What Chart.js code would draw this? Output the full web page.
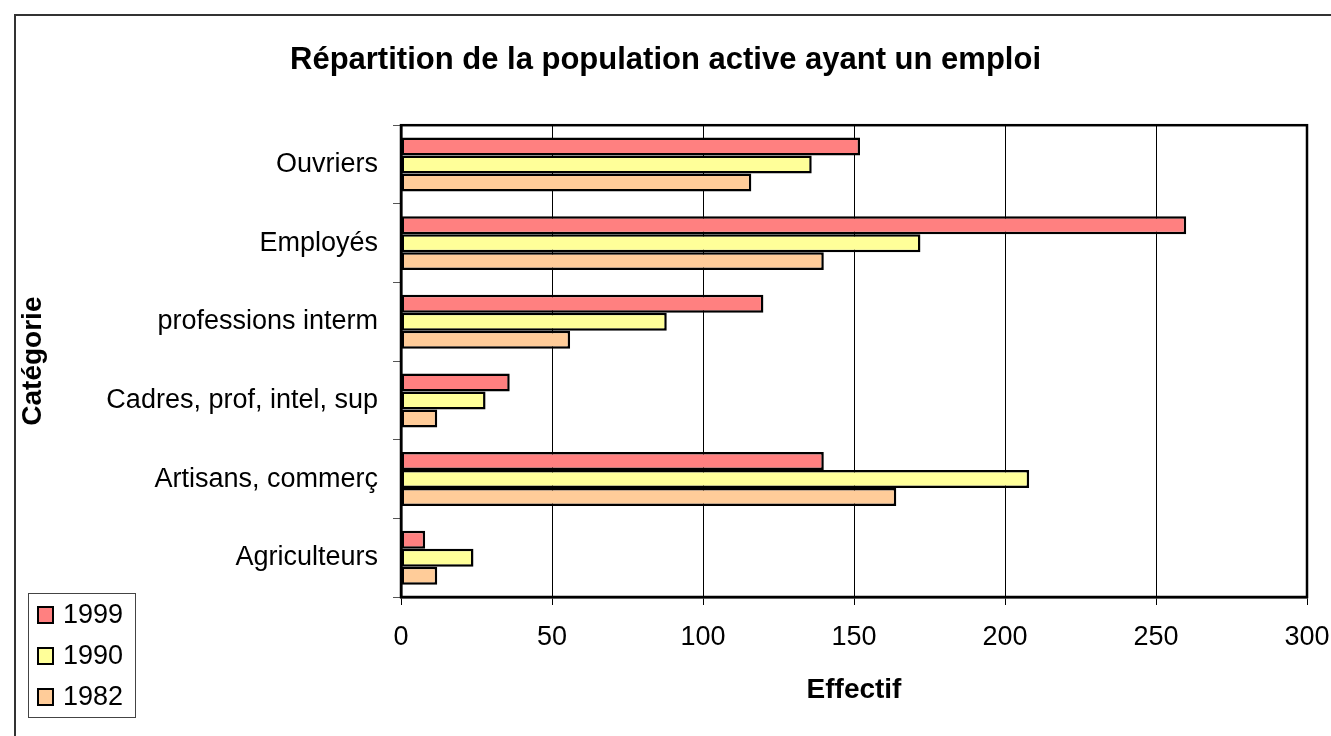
<!DOCTYPE html>
<html>
<head>
<meta charset="utf-8">
<title>Répartition de la population active</title>
<script src="https://cdn.jsdelivr.net/npm/chart.js"></script>
<style>
  body { margin: 0; background: #fff; }
</style>
</head>
<body>
<canvas id="chart" width="1331" height="736"></canvas>
<script>
const categories = ['Ouvriers', 'Employés', 'professions interm', 'Cadres, prof, intel, sup', 'Artisans, commerç', 'Agriculteurs'];
const years = ['1999', '1990', '1982'];
const values1999 = [152, 260, 120, 36, 140, 8];
const values1990 = [136, 172, 88, 28, 208, 24];
const values1982 = [116, 140, 56, 12, 164, 12];
const xTicks = [0, 50, 100, 150, 200, 250, 300];
const colors = ['#FF8080', '#FFFF99', '#FFCC99'];

const FONT = "'Liberation Sans', Arial, sans-serif";

// outer frame, plot frame and the little legend box at bottom left
const framePlugin = {
    id: 'frames',
    beforeDraw(chart) {
        const ctx = chart.ctx;
        ctx.save();
        ctx.fillStyle = '#fff';
        ctx.fillRect(0, 0, chart.width, chart.height);
        ctx.strokeStyle = '#333';
        ctx.lineWidth = 2;
        ctx.strokeRect(15, 15, chart.width + 20, chart.height + 20);
        ctx.restore();
    },
    afterDatasetsDraw(chart) {
        const a = chart.chartArea;
        const ctx = chart.ctx;
        ctx.save();
        ctx.strokeStyle = '#000';
        ctx.lineWidth = 2.5;
        ctx.strokeRect(a.left, a.top, a.right - a.left, a.bottom - a.top);
        ctx.restore();
    },
    afterDraw(chart) {
        const ctx = chart.ctx;
        ctx.save();
        ctx.strokeStyle = '#444';
        ctx.lineWidth = 1;
        ctx.strokeRect(28.5, 593.5, 107, 124);
        ctx.font = '27px ' + FONT;
        ctx.textBaseline = 'middle';
        chart.data.datasets.forEach((ds, i) => {
            const y = 615 + i * 41;
            ctx.fillStyle = ds.backgroundColor;
            ctx.fillRect(38, y - 8, 15, 16);
            ctx.strokeStyle = '#000';
            ctx.lineWidth = 2;
            ctx.strokeRect(38, y - 8, 15, 16);
            ctx.fillStyle = '#000';
            ctx.fillText(ds.label, 63, y + 1);
        });
        ctx.restore();
    }
};

const series = [values1999, values1990, values1982];

new Chart(document.getElementById('chart'), {
    type: 'bar',
    data: {
        labels: categories,
        datasets: years.map((y, i) => ({
            label: y,
            data: series[i],
            backgroundColor: colors[i],
            borderColor: '#000',
            borderWidth: 2.5,
            borderSkipped: false,
            categoryPercentage: 0.686,
            barPercentage: 1
        }))
    },
    options: {
        indexAxis: 'y',
        responsive: false,
        animation: false,
        layout: { padding: 0 },
        plugins: {
            legend: { display: false },
            tooltip: { enabled: false },
            title: {
                display: true,
                text: 'Répartition de la population active ayant un emploi',
                color: '#000',
                font: { family: FONT, size: 31, weight: 'bold' },
                padding: { top: 42, bottom: 46 }
            }
        },
        scales: {
            x: {
                min: 0,
                max: 300,
                afterBuildTicks: s => { s.ticks = xTicks.map(v => ({ value: v })); },
                afterFit: s => { s.height = 139; s.paddingLeft = 0; s.paddingRight = 24; },
                grid: { color: '#000', lineWidth: 1, tickLength: 8 },
                border: { display: true, color: '#000', width: 2.5 },
                ticks: { color: '#000', padding: 16, maxRotation: 0, font: { family: FONT, size: 27 } },
                title: {
                    display: true,
                    text: 'Effectif',
                    color: '#000',
                    font: { family: FONT, size: 28, weight: 'bold' },
                    padding: { top: 0, bottom: 29 }
                }
            },
            y: {
                afterFit: s => { s.width = 401; },
                grid: { drawOnChartArea: false, color: '#555', tickLength: 8 },
                border: { display: true, color: '#000', width: 2.5 },
                ticks: { color: '#000', padding: 15, font: { family: FONT, size: 27 } },
                title: {
                    display: true,
                    text: 'Catégorie',
                    color: '#000',
                    font: { family: FONT, size: 28, weight: 'bold' },
                    padding: { top: 16, bottom: 0 }
                }
            }
        }
    },
    plugins: [framePlugin]
});
</script>
</body>
</html>
